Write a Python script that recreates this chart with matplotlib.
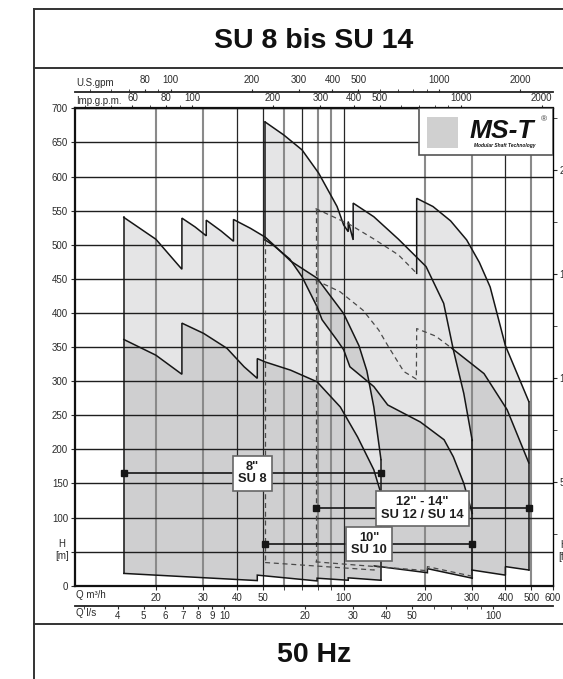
import numpy as np
import matplotlib
matplotlib.use("Agg")
import matplotlib.pyplot as plt
from matplotlib.lines import Line2D
from matplotlib.patches import Rectangle
from matplotlib.ticker import NullFormatter
from matplotlib.transforms import ScaledTranslation

plt.rcParams["font.family"] = ["Liberation Sans", "DejaVu Sans"]

LIGHT = "#e5e5e6"
DARK = "#cfcfd0"
LINE = "#161616"
HIDDEN = "#4a4a4a"
TXT = "#2a2a2a"

# ---- SU 8 (8") ----
su8_top_q = [15.2, 20, 25, 25, 28, 30.8, 30.8, 35, 38.9, 38.9, 45, 51.1, 54.8, 63.5, 79.6, 100, 114, 122, 129.5, 137.7]
su8_top_h = [540, 508, 464, 539, 526, 513, 536, 520, 505, 537, 524, 511, 500, 476, 451, 399, 352, 315, 262, 185]
su8_low_q = [15.2, 20, 25, 25, 30.1, 36.8, 42.6, 47.7, 47.7, 51.1, 63.5, 79.6, 97.2, 112.7, 129.5, 137.7]
su8_low_h = [361, 338, 310, 385, 370, 348, 321, 304, 333, 328, 316, 299, 262, 218, 170, 135]
su8_bot_q = [15.2, 47.7, 47.7, 79.6, 79.6, 104, 104, 137.7]
su8_bot_h = [18, 7.5, 15.5, 7, 11, 8, 11.5, 8]

# ---- SU 10 (10") ----
su10_top_q = [51, 59.8, 70, 80.7, 94.5, 100, 104, 104, 108.5, 108.5, 129.5, 160, 202.6, 235.7, 256, 280, 301]
su10_top_h = [680, 661, 639, 605, 556, 529, 519, 534, 507, 561, 541, 508, 468, 414, 346, 282, 213]
su10_k_q = [51, 54.8, 63, 70, 79.6, 83.1, 94.5, 100, 105.5, 129.5, 145.9, 193, 236.5, 256, 280, 301]
su10_k_h = [507, 499, 479, 453, 409, 390, 360, 346, 321, 292, 265, 240, 214, 189, 150, 106]
su10_bot_q = [51, 130, 130, 205, 205, 301]
su10_bot_h = [34, 23, 29, 19, 25, 11]

# ---- SU 12 / SU 14 (12" - 14") ----
su14_top_q = [78.6, 105, 130, 160, 187, 187, 215, 250, 287, 320, 351, 400, 489]
su14_top_h = [553, 530, 508, 485, 458, 568, 556, 535, 507, 474, 438, 352, 270]
su14_low_q = [78.6, 97, 118, 135, 146, 167.5, 186.5, 187, 220, 253, 333, 406, 489]
su14_low_h = [448, 431, 404, 375, 352, 314, 303, 377, 366, 348, 311, 258, 180]
su14_bot_q = [78.6, 205, 205, 300, 300, 400, 400, 489]
su14_bot_h = [35, 22, 28, 14, 23, 15.5, 28, 23]

# range bars
range_names = ['8"\nSU 8', '10"\nSU 10', '12" - 14"\nSU 12 / SU 14']
range_q_from = [15.2, 51.0, 78.6]
range_q_to = [137.7, 301.0, 489.0]
range_h = [165, 61, 113.5]
range_label_q = [45.7, 124.5, 196.6]

# axes
q_grid_dark = [40, 50, 70, 100, 400]
q_grid_grey = [20, 30, 60, 80, 90, 200, 300, 500]
q_ticks = [20, 30, 40, 50, 100, 200, 300, 400, 500, 600]
q_minor = [60, 70, 80, 90]
h_ticks = list(range(0, 701, 50))
h_labels = ["" if v == 50 else str(v) for v in h_ticks]  # "H [m]" sits there
gpm_ticks = [80, 100, 200, 300, 400, 500, 1000, 2000]
gpm_minor = [50, 60, 70, 90, 600, 700, 800, 900]
imp_ticks = [60, 80, 100, 200, 300, 400, 500, 1000, 2000]
imp_minor = [40, 50, 70, 90, 600, 700, 800, 900]
ls_ticks = [4, 5, 6, 7, 8, 9, 10, 20, 30, 40, 50, 100]
ls_minor = [3, 60, 70, 80, 90]
ft_ticks = [500, 1000, 1500, 2000]
ft_minor = [250, 750, 1250, 1750, 2250]

W, H = 563, 679
fig = plt.figure(figsize=(W / 100, H / 100), dpi=100)
ax = fig.add_axes([75 / W, 1 - 585.7 / H, 477.7 / W, 477.4 / H])
ax.set_xscale("log")
ax.set_xlim(10, 600)
ax.set_ylim(0, 700)


def region(top_q, top_h, bot_q, bot_h, color):
    q = list(top_q) + list(bot_q)[::-1]
    h = list(top_h) + list(bot_h)[::-1]
    ax.fill(q, h, color=color, lw=0, zorder=1)


def trace(q, h, dashed=False):
    if dashed:
        ax.plot(q, h, color=HIDDEN, lw=0.9, ls=(0, (4, 3)), zorder=3)
    else:
        ax.plot(q, h, color=LINE, lw=1.1, zorder=3, solid_joinstyle="miter")


# fills (back to front)
region(su14_top_q, su14_top_h, su14_bot_q, su14_bot_h, LIGHT)
region(su14_low_q, su14_low_h, su14_bot_q, su14_bot_h, DARK)
region(su10_top_q, su10_top_h, su10_bot_q, su10_bot_h, LIGHT)
region(su10_k_q, su10_k_h, su10_bot_q, su10_bot_h, DARK)
region(su8_top_q, su8_top_h, su8_bot_q, su8_bot_h, LIGHT)
region(su8_low_q, su8_low_h, su8_bot_q, su8_bot_h, DARK)

# overlap band between SU 8 envelope and SU 10 lower curve
qg = np.geomspace(51.5, 137.7, 600)
i0 = su8_top_q.index(51.1)
top8 = np.interp(np.log10(qg), np.log10(su8_top_q[i0:]), su8_top_h[i0:])
k10 = np.interp(np.log10(qg), np.log10(su10_k_q), su10_k_h)
ax.fill_between(qg, k10, top8, where=top8 > k10, interpolate=True,
                color=DARK, lw=0, zorder=1)

# grid
for q in q_grid_grey:
    ax.axvline(q, color="#8a8a8a", lw=1.5, zorder=2)
for q in q_grid_dark:
    ax.axvline(q, color="#262626", lw=0.9, zorder=2)
for h in h_ticks[1:]:
    ax.axhline(h, color="#1e1e1e", lw=1.0, zorder=2)

# SU 8 outlines
trace(su8_top_q, su8_top_h)
trace(su8_low_q, su8_low_h)
trace(su8_bot_q, su8_bot_h)
trace([su8_top_q[0]] * 2, [su8_top_h[0], su8_bot_h[0]])
trace([su8_top_q[-1]] * 2, [su8_top_h[-1], su8_bot_h[-1]])

# SU 10 outlines
trace(su10_top_q, su10_top_h)
trace(su10_k_q, su10_k_h)
trace([su10_top_q[0]] * 2, [su10_top_h[0], su10_k_h[0]])
trace([su10_top_q[0]] * 2, [su10_k_h[0], su10_bot_h[0]], dashed=True)
trace([su10_top_q[-1]] * 2, [su10_top_h[-1], su10_bot_h[-1]])
trace(su10_bot_q[:3], su10_bot_h[:3], dashed=True)
trace(su10_bot_q[2:], su10_bot_h[2:])

# SU 12 / 14 outlines
trace([su14_top_q[0]] * 2, [su14_top_h[0], su14_bot_h[0]], dashed=True)
trace(su14_top_q[:5], su14_top_h[:5], dashed=True)
trace(su14_top_q[4:], su14_top_h[4:])
trace(su14_low_q[:10], su14_low_h[:10], dashed=True)
trace(su14_low_q[9:], su14_low_h[9:])
trace([su14_top_q[-1]] * 2, [su14_top_h[-1], su14_bot_h[-1]])
trace(su14_bot_q[:4], su14_bot_h[:4], dashed=True)
trace(su14_bot_q[4:], su14_bot_h[4:])

# range bars and labels
for name, q0, q1, h, ql in zip(range_names, range_q_from, range_q_to, range_h, range_label_q):
    ax.plot([q0, q1], [h, h], color=LINE, lw=1.2, marker="s", ms=4.3, zorder=5)
    ax.text(ql, h, name, ha="center", va="center", fontsize=9.3, fontweight="bold",
            color="#1e1e1e", linespacing=1.05, zorder=6,
            bbox=dict(boxstyle="square,pad=0.4", fc="white", ec="#666666", lw=1.2))

# logo box
ax.add_patch(Rectangle((0.7208, 0.9022), 0.2792, 0.0978, transform=ax.transAxes,
                       fc="white", ec="#555555", lw=1.2, zorder=7))
ax.add_patch(Rectangle((0.7362, 0.9175), 0.0662, 0.0649, transform=ax.transAxes,
                       fc="#d0d0d0", ec="none", zorder=8))
ax.text(0.893, 0.953, "MS-T", transform=ax.transAxes, fontsize=19, fontweight="bold",
        style="italic", ha="center", va="center", color="#111111", zorder=9)
ax.text(0.981, 0.975, "®", transform=ax.transAxes, fontsize=6, ha="center",
        va="center", color="#333333", zorder=9)
ax.text(0.900, 0.922, "Modular Shaft Technology", transform=ax.transAxes, fontsize=3.5,
        fontweight="bold", style="italic", ha="center", va="center", color="#111111", zorder=9)

# main axes styling
for s in ["left", "bottom", "top"]:
    ax.spines[s].set_linewidth(1.6)
    ax.spines[s].set_color("#111111")
ax.spines["right"].set_linewidth(0.9)
ax.set_xticks(q_ticks, labels=[str(v) for v in q_ticks])
ax.set_xticks(q_minor, minor=True)
ax.xaxis.set_minor_formatter(NullFormatter())
last = ax.get_xticklabels()[-1]
last.set_transform(last.get_transform() + ScaledTranslation(-5 / 100, 0, fig.dpi_scale_trans))
ax.set_yticks(h_ticks, labels=h_labels)
ax.tick_params(axis="both", which="both", direction="out", length=3, labelsize=7,
               pad=2, colors=TXT, top=False, right=False)

# secondary flow scales
sec_imp = ax.secondary_xaxis("top", functions=(lambda q: q * 3.666, lambda g: g / 3.666))
sec_imp.set_xticks(imp_ticks, labels=[str(v) for v in imp_ticks])
sec_imp.set_xticks(imp_minor, minor=True)
sec_imp.xaxis.set_minor_formatter(NullFormatter())
sec_imp.tick_params(which="both", length=2.5, labelsize=7, pad=1, colors=TXT)

sec_gpm = ax.secondary_xaxis(1.0348, functions=(lambda q: q * 4.403, lambda g: g / 4.403))
sec_gpm.set_xticks(gpm_ticks, labels=[str(v) for v in gpm_ticks])
sec_gpm.set_xticks(gpm_minor, minor=True)
sec_gpm.xaxis.set_minor_formatter(NullFormatter())
sec_gpm.tick_params(which="both", length=2.5, labelsize=7, pad=2, colors=TXT)
for s in sec_gpm.spines.values():
    s.set_linewidth(1.3)
    s.set_color("#222222")

sec_ls = ax.secondary_xaxis(-0.0419, functions=(lambda q: q / 3.6, lambda l: l * 3.6))
sec_ls.set_xticks(ls_ticks, labels=[str(v) for v in ls_ticks])
sec_ls.set_xticks(ls_minor, minor=True)
sec_ls.xaxis.set_minor_formatter(NullFormatter())
sec_ls.tick_params(which="both", length=2, labelsize=7, pad=1.5, colors=TXT)
for s in sec_ls.spines.values():
    s.set_linewidth(1.3)
    s.set_color("#222222")

sec_ft = ax.secondary_yaxis("right", functions=(lambda m: m / 0.3048, lambda f: f * 0.3048))
sec_ft.set_yticks(ft_ticks, labels=[str(v) for v in ft_ticks])
sec_ft.set_yticks(ft_minor, minor=True)
sec_ft.tick_params(which="both", length=3, labelsize=7, pad=2, colors=TXT)

# axis captions
fig.text(76 / W, 1 - 83 / H, "U.S.gpm", fontsize=7, color=TXT, va="center")
fig.text(76 / W, 1 - 100.7 / H, "Imp.g.p.m.", fontsize=7, color=TXT, va="center")
fig.text(76 / W, 1 - 595.5 / H, "Q m³/h", fontsize=7, color=TXT, va="center")
fig.text(76 / W, 1 - 613 / H, "Q l/s", fontsize=7, color=TXT, va="center")
fig.text(62 / W, 1 - 550 / H, "H\n[m]", fontsize=7, color=TXT, ha="center", va="center",
         linespacing=1.3)
fig.text(563.5 / W, 1 - 551 / H, "H\n[ft]", fontsize=7, color=TXT, ha="center", va="center",
         linespacing=1.3)

# page frame and titles
frame = dict(color="#333333", lw=1.4, transform=fig.transFigure)
fig.add_artist(Line2D([34 / W, 34 / W], [0, 1 - 9.3 / H], **frame))
fig.add_artist(Line2D([34 / W, 1], [1 - 9.3 / H, 1 - 9.3 / H], **frame))
fig.add_artist(Line2D([34 / W, 1], [1 - 68.3 / H, 1 - 68.3 / H], **frame))
fig.add_artist(Line2D([34 / W, 1], [1 - 624.3 / H, 1 - 624.3 / H], **frame))
fig.text(314 / W, 1 - 40.5 / H, "SU 8 bis SU 14", ha="center", va="center", fontsize=20.5,
         fontweight="bold", color="#111111")
fig.text(314 / W, 1 - 655 / H, "50 Hz", ha="center", va="center", fontsize=20.5,
         fontweight="bold", color="#111111")

fig.savefig("out.png", dpi=100)
